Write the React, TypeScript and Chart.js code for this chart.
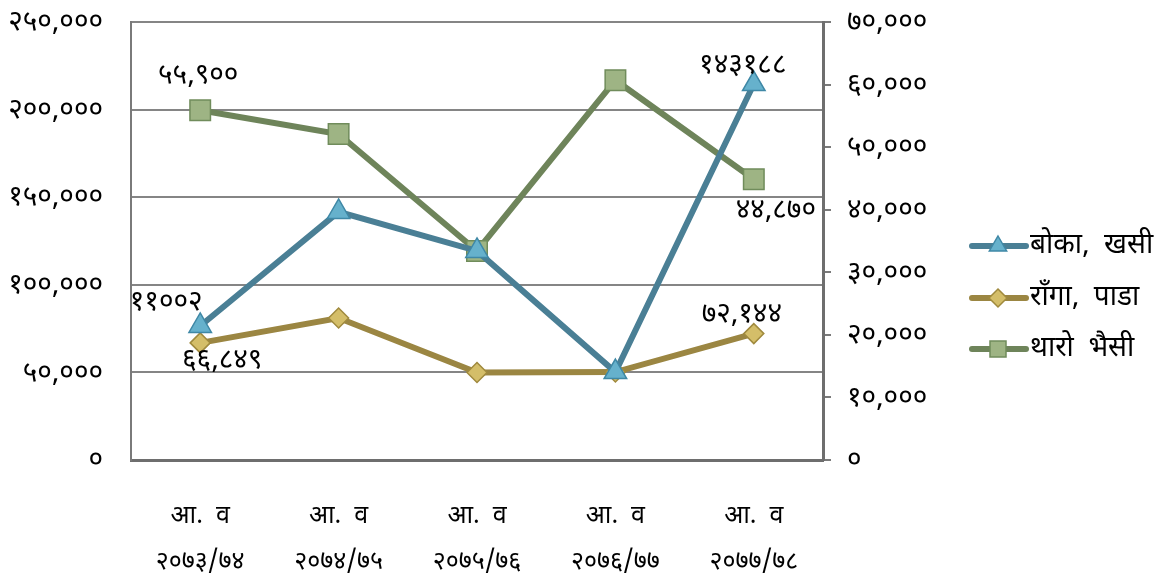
import React, { useEffect, useRef } from "react";
import { Chart, registerables } from "chart.js";

Chart.register(...registerables);

const categoriesLine1 = ["आ.  व", "आ.  व", "आ.  व", "आ.  व", "आ.  व"];
const categoriesLine2 = ["२०७३/७४", "२०७४/७५", "२०७५/७६", "२०७६/७७", "२०७७/७८"];

const seriesNames = ["बोका,  खसी", "राँगा,  पाडा", "थारो  भैसी"];

const bokaKhasi = [76500, 141600, 119300, 50200, 214600];
const rangaPada = [66849, 81050, 49950, 50200, 72144];
const tharoBhaisi = [55900, 52100, 33400, 60700, 44870];

const bokaLabels = ["११००२", null, null, null, "१४३१८८"];
const rangaLabels = ["६६,८४९", null, null, null, "७२,१४४"];
const tharoLabels = ["५५,९००", null, null, null, "४४,८७०"];

const leftTicksMax = 250000;
const leftStep = 50000;
const rightTicksMax = 70000;
const rightStep = 10000;

const FONT = "'Noto Sans Devanagari', 'Noto Sans', 'DejaVu Sans', sans-serif";

const COLORS = [
  { line: "#4A7F95", fill: "#66B1CC", border: "#3F88A6", style: "triangle", r: 13 },
  { line: "#9B8642", fill: "#D4BE69", border: "#A08A3E", style: "rectRot", r: 10 },
  { line: "#6E845A", fill: "#9EB484", border: "#708C5B", style: "rect", r: 14.5 },
];

const toDeva = (s: string) => s.replace(/\d/g, (d) => "०१२३४५६७८९"[+d]);

const labelOffsets: Record<string, [number, number]> = {
  "0-0": [-34, -21],
  "0-4": [-11, -16],
  "1-0": [22, 20],
  "1-4": [-12, -17],
  "2-0": [-2, -32],
  "2-4": [22, 34],
};

const dataLabelPlugin = {
  id: "dataLabels",
  afterDatasetsDraw(chart: any) {
    const ctx = chart.ctx;
    const all = [bokaLabels, rangaLabels, tharoLabels];
    ctx.save();
    ctx.font = `28px ${FONT}`;
    ctx.fillStyle = "#000";
    ctx.textAlign = "center";
    ctx.textBaseline = "middle";
    all.forEach((labels, di) => {
      const meta = chart.getDatasetMeta(di);
      labels.forEach((t, i) => {
        if (!t) return;
        const p = meta.data[i];
        const off = labelOffsets[`${di}-${i}`] || [0, -20];
        ctx.fillText(t, p.x + off[0], p.y + off[1]);
      });
    });
    ctx.restore();
  },
};

const legendPlugin = {
  id: "customLegend",
  afterDraw(chart: any) {
    const ctx = chart.ctx;
    const ys = [246, 298, 349];
    ctx.save();
    seriesNames.forEach((name, i) => {
      const c = COLORS[i];
      const y = ys[i];
      ctx.strokeStyle = c.line;
      ctx.lineWidth = 6;
      ctx.lineCap = "round";
      ctx.beginPath();
      ctx.moveTo(972, y);
      ctx.lineTo(1026, y);
      ctx.stroke();
      ctx.fillStyle = c.fill;
      ctx.strokeStyle = c.border;
      ctx.lineWidth = 1.5;
      const x = 998;
      ctx.beginPath();
      if (c.style === "triangle") {
        const r = 10;
        ctx.moveTo(x, y - r);
        ctx.lineTo(x + r * 0.866, y + r / 2);
        ctx.lineTo(x - r * 0.866, y + r / 2);
        ctx.closePath();
      } else if (c.style === "rectRot") {
        const r = 9;
        ctx.moveTo(x, y - r);
        ctx.lineTo(x + r, y);
        ctx.lineTo(x, y + r);
        ctx.lineTo(x - r, y);
        ctx.closePath();
      } else {
        const s = 8;
        ctx.rect(x - s, y - s, 2 * s, 2 * s);
      }
      ctx.fill();
      ctx.stroke();
      ctx.fillStyle = "#000";
      ctx.font = `28px ${FONT}`;
      ctx.textAlign = "left";
      ctx.textBaseline = "middle";
      ctx.fillText(name, 1030, y + 2);
    });
    ctx.restore();
  },
};

const zeroVerticalPadding = (s: any) => {
  s.paddingTop = 0;
  s.paddingBottom = 0;
};

export default function App() {
  const ref = useRef<HTMLCanvasElement>(null);
  useEffect(() => {
    if (!ref.current) return;
    const data = [bokaKhasi, rangaPada, tharoBhaisi];
    const chart = new Chart(ref.current, {
      type: "line",
      data: {
        labels: categoriesLine1.map((a, i) => [a, categoriesLine2[i]]),
        datasets: data.map((d, i) => ({
          label: seriesNames[i],
          data: d,
          yAxisID: i === 2 ? "y1" : "y",
          borderColor: COLORS[i].line,
          borderWidth: 6,
          backgroundColor: COLORS[i].fill,
          pointStyle: COLORS[i].style as any,
          pointRadius: COLORS[i].r,
          pointBackgroundColor: COLORS[i].fill,
          pointBorderColor: COLORS[i].border,
          pointBorderWidth: 1.5,
          tension: 0,
          fill: false,
        })),
      },
      options: {
        responsive: false,
        animation: false,
        layout: { padding: { top: 22, left: 0, right: 0, bottom: 0 } },
        plugins: { legend: { display: false }, tooltip: { enabled: false } },
        scales: {
          x: {
            type: "category",
            offset: true,
            grid: { display: false, drawTicks: false },
            border: { color: "#6E6E6E", width: 3 },
            ticks: {
              color: "#000",
              font: { family: FONT, size: 25, lineHeight: 1.84 },
              padding: 35,
              maxRotation: 0,
              autoSkip: false,
            },
            afterFit: (s: any) => {
              s.height = 114;
            },
          },
          y: {
            position: "left",
            min: 0,
            max: leftTicksMax,
            grid: { color: "#858585", lineWidth: 2, drawTicks: false },
            border: { color: "#7A7A7A", width: 2 },
            ticks: {
              stepSize: leftStep,
              color: "#000",
              padding: 28,
              labelOffset: 3,
              font: { family: FONT, size: 28 },
              callback: (v: any) => toDeva(Number(v).toLocaleString("en-US")),
            },
            afterFit: (s: any) => {
              s.width = 131;
              zeroVerticalPadding(s);
            },
          },
          y1: {
            position: "right",
            min: 0,
            max: rightTicksMax,
            grid: { drawOnChartArea: false, color: "#7A7A7A", lineWidth: 2, tickLength: 8 },
            border: { color: "#6E6E6E", width: 3 },
            ticks: {
              stepSize: rightStep,
              color: "#000",
              padding: 16,
              labelOffset: 3,
              font: { family: FONT, size: 28 },
              callback: (v: any) => toDeva(Number(v).toLocaleString("en-US")),
            },
            afterFit: (s: any) => {
              s.width = 348;
              zeroVerticalPadding(s);
            },
          },
        },
      },
      plugins: [dataLabelPlugin, legendPlugin],
    });
    return () => chart.destroy();
  }, []);
  return (
    <div style={{ position: "fixed", left: 0, top: 0, width: 1171, height: 574, background: "#fff" }}>
      <canvas ref={ref} width={1171} height={574} style={{ width: 1171, height: 574 }} />
    </div>
  );
}
